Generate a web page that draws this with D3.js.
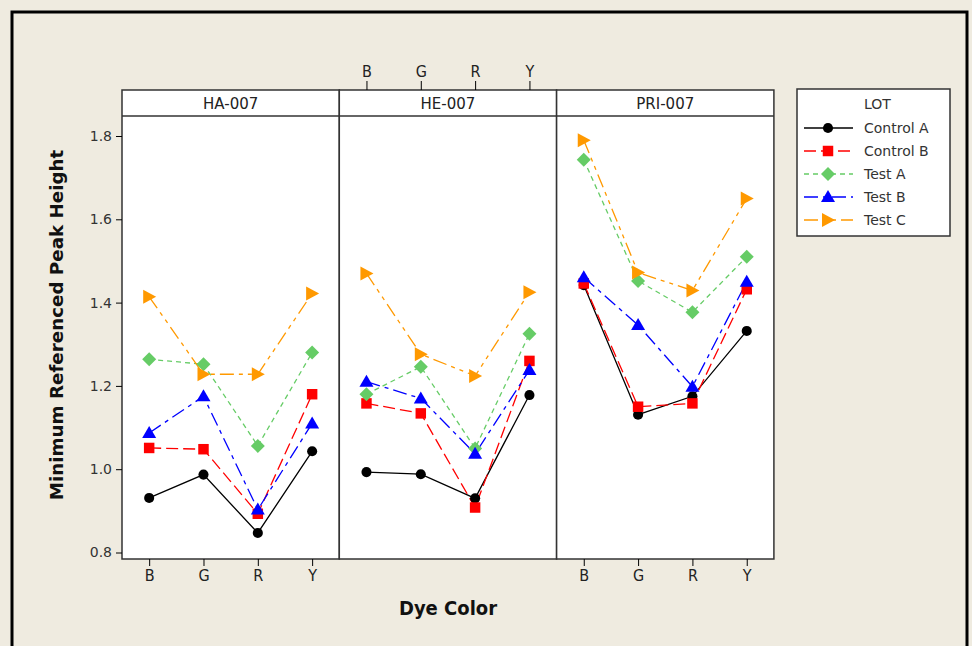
<!DOCTYPE html>
<html><head><meta charset="utf-8">
<script src="https://cdn.jsdelivr.net/npm/d3@7"></script>
<style>body{margin:0;background:#efebe0;} svg{display:block;}</style>
</head><body>
<script>
const panels = ["HA-007","HE-007","PRI-007"];
const dyes = ["B","G","R","Y"];
const lots = ["Control A","Control B","Test A","Test B","Test C"];
const yTicks = [0.8,1.0,1.2,1.4,1.6,1.8];
// values[lot][panel] -> [B,G,R,Y]
const controlA = [[0.931,0.987,0.847,1.043],[0.993,0.988,0.930,1.178],[1.442,1.131,1.175,1.332]];
const controlB = [[1.051,1.048,0.893,1.180],[1.158,1.134,0.908,1.260],[1.446,1.150,1.158,1.432]];
const testA    = [[1.264,1.252,1.056,1.280],[1.180,1.246,1.050,1.325],[1.743,1.452,1.377,1.510]];
const testB    = [[1.087,1.175,0.903,1.110],[1.210,1.170,1.037,1.238],[1.461,1.346,1.198,1.450]];
const testC    = [[1.414,1.228,1.228,1.422],[1.470,1.276,1.224,1.425],[1.790,1.472,1.429,1.650]];
const seriesValues = [controlA, controlB, testA, testB, testC];

const colors = ["#000000","#ff0000","#66cc66","#0000ff","#ff9900"];
const dashes = [null,"12,5","5,4","14,5,4,5","14,5,4,5,4,5"];
const shapes = ["circle","square","diamond","triangle","right"];

const W=972,H=646;
const svg = d3.select("body").append("svg").attr("width",W).attr("height",H);
svg.append("rect").attr("width",W).attr("height",H).attr("fill","#efebe0");
svg.append("rect").attr("x",12).attr("y",12).attr("width",955).attr("height",700)
  .attr("fill","none").attr("stroke","#000").attr("stroke-width",3);

const plotLeft=122, panelW=217.3, plotTop=116, plotBottom=559, headerTop=90;
const y = d3.scaleLinear().domain([0.8,1.8]).range([552.5,136]);

function symPath(s){
  if(s==="circle") return d3.symbol(d3.symbolCircle,80)();
  if(s==="square") return d3.symbol(d3.symbolSquare,110)();
  if(s==="diamond") return "M0,-7L7,0L0,7L-7,0Z";
  if(s==="triangle") return "M0,-7L7,5L-7,5Z";
  if(s==="right") return "M-6,-7L7,0L-6,7Z";
}

panels.forEach((p,pi)=>{
  const x0 = plotLeft + pi*panelW;
  const x = d3.scalePoint().domain(dyes).range([x0, x0+panelW]).padding(0.5);
  svg.append("rect").attr("x",x0).attr("y",headerTop).attr("width",panelW).attr("height",plotBottom-headerTop)
    .attr("fill","#fff").attr("stroke","#333").attr("stroke-width",1.5);
  svg.append("line").attr("x1",x0).attr("x2",x0+panelW).attr("y1",plotTop).attr("y2",plotTop)
    .attr("stroke","#333").attr("stroke-width",1.5);
  svg.append("text").attr("x",x0+panelW/2).attr("y",109).attr("text-anchor","middle")
    .attr("font-family","DejaVu Sans, Verdana, sans-serif").attr("font-size",15).attr("fill","#222").text(p);

  if(pi!==1){
    const ax = svg.append("g").attr("transform",`translate(0,${plotBottom})`)
      .call(d3.axisBottom(x).tickSize(7).tickPadding(4));
    ax.select(".domain").remove();
    ax.selectAll("text").attr("font-family","Liberation Sans Narrow, DejaVu Sans Condensed, sans-serif").attr("font-size",16).attr("fill","#222");
  } else {
    const ax = svg.append("g").attr("transform",`translate(0,${headerTop})`)
      .call(d3.axisTop(x).tickSize(9).tickPadding(4));
    ax.select(".domain").remove();
    ax.selectAll("text").attr("font-family","Liberation Sans Narrow, DejaVu Sans Condensed, sans-serif").attr("font-size",16).attr("fill","#222");
  }

  const g = svg.append("g");
  lots.forEach((l,li)=>{
    const vals = seriesValues[li][pi];
    const pts = dyes.map((d,i)=>[x(d), y(vals[i])]);
    g.append("path").attr("d", d3.line()(pts)).attr("fill","none")
      .attr("stroke",colors[li]).attr("stroke-width",1.3)
      .attr("stroke-dasharray",dashes[li]);
  });
  lots.forEach((l,li)=>{
    const vals = seriesValues[li][pi];
    dyes.forEach((d,i)=>{
      g.append("path").attr("d",symPath(shapes[li]))
        .attr("transform",`translate(${x(d)},${y(vals[i])})`).attr("fill",colors[li]);
    });
  });
});

const yax = svg.append("g").attr("transform",`translate(${plotLeft},0)`)
  .call(d3.axisLeft(y).tickValues(yTicks).tickFormat(d3.format(".1f")).tickSize(6).tickPadding(4));
yax.select(".domain").remove();
yax.selectAll("text").attr("font-family","DejaVu Sans, Verdana, sans-serif").attr("font-size",14).attr("fill","#333");

svg.append("text").attr("x",448).attr("y",615).attr("text-anchor","middle")
  .attr("font-family","Liberation Sans Narrow, DejaVu Sans Condensed, sans-serif").attr("font-weight","bold").attr("font-size",20)
  .attr("fill","#111").text("Dye Color");
svg.append("text").attr("transform","translate(63,325) rotate(-90)").attr("text-anchor","middle")
  .attr("font-family","DejaVu Sans, Verdana, sans-serif").attr("font-weight","bold").attr("font-size",18.3)
  .attr("fill","#111").text("Minimum Referenced Peak Height");

const lg = svg.append("g");
lg.append("rect").attr("x",797).attr("y",89).attr("width",153).attr("height",147)
  .attr("fill","#fff").attr("stroke","#333").attr("stroke-width",1.5);
lg.append("text").attr("x",864).attr("y",109).attr("font-family","DejaVu Sans, Verdana, sans-serif")
  .attr("font-size",14).attr("fill","#333").text("LOT");
lots.forEach((l,li)=>{
  const yy = 128 + li*23;
  lg.append("line").attr("x1",804).attr("x2",853).attr("y1",yy).attr("y2",yy)
    .attr("stroke",colors[li]).attr("stroke-width",1.3).attr("stroke-dasharray",dashes[li]);
  lg.append("path").attr("d",symPath(shapes[li])).attr("transform",`translate(828,${yy})`).attr("fill",colors[li]);
  lg.append("text").attr("x",864).attr("y",yy+5).attr("font-family","DejaVu Sans, Verdana, sans-serif")
    .attr("font-size",14).attr("fill","#333").text(l);
});
</script>
</body></html>
